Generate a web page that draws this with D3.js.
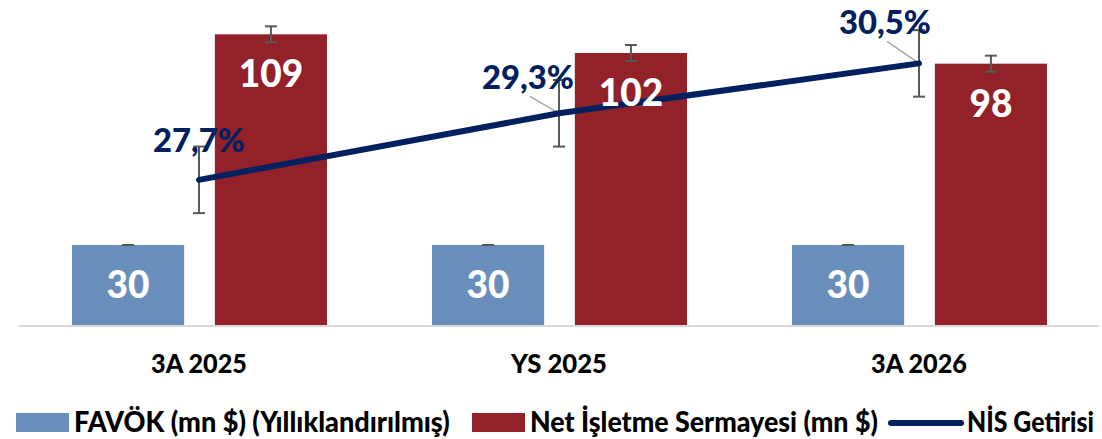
<!DOCTYPE html>
<html>
<head>
<meta charset="utf-8">
<script src="https://cdn.jsdelivr.net/npm/d3@7"></script>
<style>
  html, body { margin: 0; padding: 0; background: #fff; }
  svg { display: block; font-family: Lato, "Open Sans", sans-serif; font-weight: 700; }
</style>
</head>
<body>
<svg id="chart" width="1102" height="439"></svg>
<script>
// ---- data ----
const categories = ["3A 2025", "YS 2025", "3A 2026"];
const seriesNames = ["FAVÖK (mn $) (Yıllıklandırılmış)", "Net İşletme Sermayesi (mn $)", "NİS Getirisi"];
const favok = [30, 30, 30];
const favokErr = [0, 0, 0];
const nis = [109, 102, 98];
const nisErr = [3, 3, 3];
const getiri = [27.7, 29.3, 30.5];
const getiriErr = [0.8, 0.8, 0.8];
const getiriLabels = ["27,7%", "29,3%", "30,5%"];

// ---- styling ----
const colBlue = "#6A8EBB", colRed = "#92212A", colNavy = "#002060", colErr = "#595959";
const labelOffsets = [[0, -40], [-31, -36], [-34, -41]]; // label centre relative to point
const leaderLines = [false, true, true];

const svg = d3.select("#chart");
const baseY = 325, topY = 5;

const x0 = d3.scaleBand().domain(categories).range([19, 1099]).padding(0);
const x1 = d3.scaleBand().domain(["favok", "nis"]).range([53, 308]).paddingInner(0.215).paddingOuter(0);
const y = d3.scaleLinear().domain([0, 120]).range([baseY, topY]);
const y2 = d3.scaleLinear().domain([24.21, 31.88]).range([baseY, 6]);

// horizontally fit a text to a target width (condensed look) via transform
function fitText(sel, x, yy, width, anchor) {
  const node = sel.node();
  const w = node.getComputedTextLength();
  const sx = width / w;
  const left = anchor === "middle" ? x - width / 2 : x;
  sel.attr("x", 0).attr("y", 0).attr("text-anchor", "start")
     .attr("transform", `translate(${left},${yy}) scale(${sx},1)`);
}

// baseline
svg.append("line").attr("x1", 19).attr("x2", 1099).attr("y1", baseY + 1).attr("y2", baseY + 1)
  .attr("stroke", "#d9d9d9").attr("stroke-width", 2);

const barSeries = [
  { key: "favok", values: favok, err: favokErr, color: colBlue },
  { key: "nis", values: nis, err: nisErr, color: colRed }
];

// bars
barSeries.forEach(s => {
  svg.append("g").selectAll("rect").data(categories).join("rect")
    .attr("x", (c) => x0(c) + x1(s.key))
    .attr("width", x1.bandwidth())
    .attr("y", (c, i) => y(s.values[i]))
    .attr("height", (c, i) => baseY - y(s.values[i]))
    .attr("fill", s.color);
});

// bar error bars
barSeries.forEach(s => {
  const g = svg.append("g").attr("stroke", colErr).attr("stroke-width", 2);
  categories.forEach((c, i) => {
    const cx = x0(c) + x1(s.key) + x1.bandwidth() / 2;
    const yt = y(s.values[i] + s.err[i]), yb = y(s.values[i] - s.err[i]);
    g.append("line").attr("x1", cx).attr("x2", cx).attr("y1", yt).attr("y2", yb);
    g.append("line").attr("x1", cx - 6).attr("x2", cx + 6).attr("y1", yt).attr("y2", yt);
    g.append("line").attr("x1", cx - 6).attr("x2", cx + 6).attr("y1", yb).attr("y2", yb);
  });
});

// line error bars
const lx = (c) => x0(c) + x0.bandwidth() / 2;
{
  const g = svg.append("g").attr("stroke", colErr).attr("stroke-width", 2);
  categories.forEach((c, i) => {
    const cx = lx(c);
    const yt = y2(getiri[i] + getiriErr[i]), yb = y2(getiri[i] - getiriErr[i]);
    g.append("line").attr("x1", cx).attr("x2", cx).attr("y1", yt).attr("y2", yb);
    g.append("line").attr("x1", cx - 6).attr("x2", cx + 6).attr("y1", yt).attr("y2", yt);
    g.append("line").attr("x1", cx - 6).attr("x2", cx + 6).attr("y1", yb).attr("y2", yb);
  });
}

// leader lines
categories.forEach((c, i) => {
  if (!leaderLines[i]) return;
  const px = lx(c), py = y2(getiri[i]);
  const tx = px + labelOffsets[i][0], ty = py + labelOffsets[i][1] + 17;
  svg.append("line").attr("x1", tx + 2).attr("y1", ty + 2).attr("x2", px).attr("y2", py)
    .attr("stroke", "#a6a6a6").attr("stroke-width", 1.5);
});

// line
const line = d3.line().x((d, i) => lx(categories[i])).y(d => y2(d));
svg.append("path").datum(getiri).attr("d", line)
  .attr("fill", "none").attr("stroke", colNavy).attr("stroke-width", 6)
  .attr("stroke-linecap", "round").attr("stroke-linejoin", "round");

// bar value labels
barSeries.forEach(s => {
  svg.append("g").selectAll("text").data(categories).join("text")
    .attr("x", (c) => x0(c) + x1(s.key) + x1.bandwidth() / 2)
    .attr("y", (c, i) => y(s.values[i]) + 53)
    .attr("text-anchor", "middle")
    .attr("font-size", 37).attr("font-weight", 900).attr("fill", "#fff")
    .text((c, i) => s.values[i]);
});

// percent labels
svg.append("g").selectAll("text").data(categories).join("text")
  .attr("font-size", 33).attr("font-weight", 900).attr("fill", colNavy)
  .text((c, i) => getiriLabels[i])
  .each(function (c, i) {
    fitText(d3.select(this), lx(c) + labelOffsets[i][0], y2(getiri[i]) + labelOffsets[i][1] + 12, 92, "middle");
  });

// category axis labels
svg.append("g").selectAll("text").data(categories).join("text")
  .attr("font-size", 26).attr("font-weight", 900).attr("fill", "#000")
  .text(c => c)
  .each(function (c) { fitText(d3.select(this), lx(c), 373, 96, "middle"); });

// legend
const legend = svg.append("g").attr("font-size", 28).attr("font-weight", 900).attr("fill", "#000");
legend.append("rect").attr("x", 16).attr("y", 413).attr("width", 53).attr("height", 19).attr("fill", colBlue);
fitText(legend.append("text").text(seriesNames[0]), 74, 432, 376, "start");
legend.append("rect").attr("x", 472).attr("y", 413).attr("width", 53).attr("height", 19).attr("fill", colRed);
fitText(legend.append("text").text(seriesNames[1]), 530, 432, 348, "start");
legend.append("line").attr("x1", 891).attr("x2", 961).attr("y1", 423).attr("y2", 423)
  .attr("stroke", colNavy).attr("stroke-width", 6).attr("stroke-linecap", "round");
fitText(legend.append("text").text(seriesNames[2]), 967, 432, 127, "start");
</script>
</body>
</html>
